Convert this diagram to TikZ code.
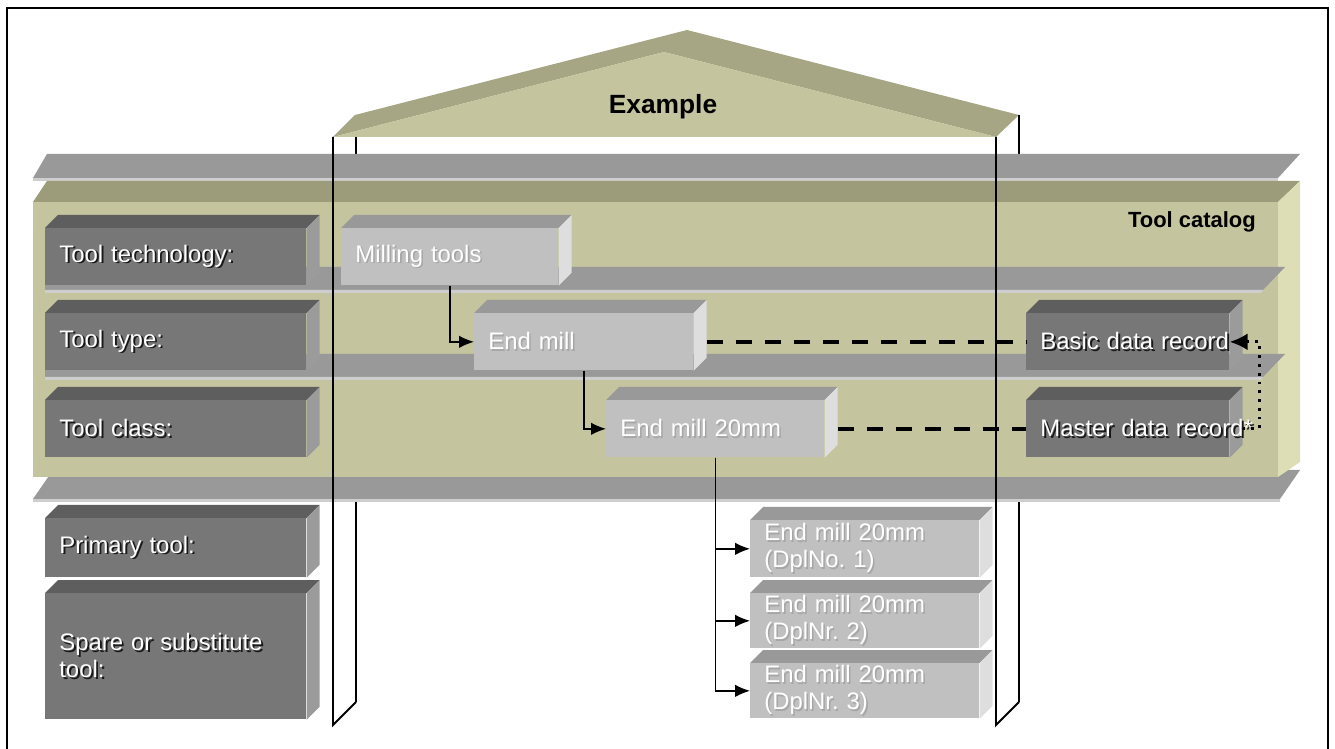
\documentclass[tikz,border=0pt]{standalone}
\usepackage{fontspec}
\setmainfont{Liberation Sans}
\usepackage{xcolor}
\usepackage{tikz}
\usetikzlibrary{calc,arrows.meta}
\definecolor{FrontKhaki}{RGB}{196,196,158}
\definecolor{TopKhaki}{RGB}{156,156,122}
\definecolor{SideKhaki}{RGB}{221,221,182}
\definecolor{RoofDark}{RGB}{166,166,132}
\definecolor{ShelfGray}{RGB}{153,153,153}
\definecolor{ShelfEdge}{RGB}{206,206,206}
\definecolor{LblFront}{RGB}{119,119,119}
\definecolor{LblTop}{RGB}{94,94,94}
\definecolor{LblSide}{RGB}{155,155,155}
\definecolor{ValFront}{RGB}{192,192,192}
\definecolor{ValTop}{RGB}{153,153,153}
\definecolor{ValSide}{RGB}{222,222,222}
\newcommand{\shd}[1]{\leavevmode\rlap{\kern1.1pt\raisebox{-1.1pt}{\color{black!90}#1}}\mbox{#1}}
\newcommand{\shl}[1]{\leavevmode\rlap{\kern0.9pt\raisebox{-0.9pt}{\color{black!35}#1}}\mbox{#1}}
\pgfdeclarelayer{back}
\pgfdeclarelayer{faces}
\pgfsetlayers{back,faces,main}

\begin{document}
\frenchspacing
\begin{tikzpicture}[x=0.02cm, y=-0.02cm, >=Latex, font=\fontsize{13.6}{15.5}\selectfont,
  lblbox/.style={fill=LblFront, text=white, anchor=north west, align=left,
                 inner xsep=0.28cm, inner ysep=0pt},
  valbox/.style={fill=ValFront, text=white, anchor=north west, align=left,
                 inner xsep=0.28cm, inner ysep=0pt},
  shelf/.style={fill=ShelfGray},
  shelfedge/.style={fill=ShelfEdge},
  post/.style={line width=1.1pt},
  sig/.style={-{Latex[length=0.3cm, width=0.25cm]}, line width=0.8pt},
  datalink/.style={line width=2.6pt, dash pattern=on 9.5pt off 7pt},
  dotlink/.style={-{Latex[length=0.36cm, width=0.34cm]}, line width=1.6pt,
                  dash pattern=on 1.6pt off 3.4pt}]

  \useasboundingbox (0,0) rectangle (1335,749);
  \draw[line width=1.3pt] (7,749) -- (7,8) -- (1328,8) -- (1328,749);

  \begin{pgfonlayer}{back}
  % --- roof ---
  \fill[RoofDark] (333,137) -- (355,115) -- (687,30) -- (1019,115) -- (996,137) -- (664,52) -- cycle;
  \fill[FrontKhaki] (333,137) -- (664,52) -- (996,137) -- cycle;
  \draw[post] (356,137) -- (356,702);
  \draw[post] (1019,115) -- (1019,702);

  % --- shelves and tool catalog ---
  \fill[shelf] (47,154) -- (1300,154) -- (1278,178) -- (33,178) -- cycle;
  \fill[shelfedge] (33,178) rectangle (1278,181);
  \fill[shelf] (53,470) -- (1300,470) -- (1280,499) -- (33,499) -- cycle;
  \fill[shelfedge] (33,499) rectangle (1280,502);
  \fill[TopKhaki] (47,181) -- (1300,181) -- (1278,202) -- (33,202) -- cycle;
  \fill[FrontKhaki] (33,202) rectangle (1278,477);
  \fill[SideKhaki] (1278,202) -- (1300,181) -- (1300,462) -- (1278,477) -- cycle;
  \foreach \y in {267,354} {
    \fill[shelf] (45,\y) -- (1285,\y) -- (1263,\y+23) -- (45,\y+23) -- cycle;
    \fill[shelfedge] (45,\y+23) -- (1263,\y+23) -- (1261,\y+26) -- (45,\y+26) -- cycle;
  }
  \end{pgfonlayer}
  \node[font=\bfseries\fontsize{15}{17}\selectfont] (title) at (663,107) {Example};
  \node[font=\bfseries\fontsize{12.5}{14}\selectfont, anchor=east] (cat) at (1262,222) {Tool catalog};

  % --- levels ---
  \node[lblbox, text width=4.66cm, minimum height=1.14cm] (tech)   at (45,228) {\shd{Tool technology:}};
  \node[lblbox, text width=4.66cm, minimum height=1.14cm] (ttype)  at (45,313) {\shd{Tool type:}};
  \node[lblbox, text width=4.66cm, minimum height=1.14cm] (tclass) at (45,400) {\shd{Tool class:}};
  \node[lblbox, text width=4.66cm, minimum height=1.18cm] (prim)   at (45,518) {\shd{Primary tool:}};
  \node[lblbox, text width=4.66cm, minimum height=2.52cm] (spare)  at (45,593) {\shd{Spare or substitute}\\\shd{tool:}};

  % --- example tools ---
  \node[valbox, text width=3.78cm, minimum height=1.14cm] (mill) at (341,228) {\shl{Milling tools}};
  \node[valbox, text width=3.82cm, minimum height=1.14cm] (em)   at (474,313) {\shl{End mill}};
  \node[valbox, text width=3.80cm, minimum height=1.14cm] (em20) at (606,400) {\shl{End mill 20mm}};
  \node[valbox, text width=4.02cm, minimum height=1.14cm] (dpl1) at (750,520) {\shl{End mill 20mm}\\\shl{(DplNo. 1)}};
  \node[valbox, text width=4.02cm, minimum height=1.10cm] (dpl2) at (750,593) {\shl{End mill 20mm}\\\shl{(DplNr. 2)}};
  \node[valbox, text width=4.02cm, minimum height=1.10cm] (dpl3) at (750,663) {\shl{End mill 20mm}\\\shl{(DplNr. 3)}};

  % --- data records ---
  \node[lblbox, text width=3.50cm, minimum height=1.14cm] (basic)  at (1026,313) {\shd{Basic data record}};
  \node[lblbox, text width=3.50cm, minimum height=1.14cm] (master) at (1026,400) {\shd{Master data record*}};

  % 3d faces
  \begin{pgfonlayer}{faces}
  \foreach \b in {tech,ttype,tclass,prim,spare,basic,master} {
    \fill[LblTop] (\b.north west) -- ++(13,-13) -- ([shift={(13,-13)}]\b.north east) -- (\b.north east) -- cycle;
    \fill[LblSide] (\b.north east) -- ++(13,-13) -- ([shift={(13,-13)}]\b.south east) -- (\b.south east) -- cycle;
  }
  \foreach \b in {mill,em,em20,dpl1,dpl2,dpl3} {
    \fill[ValTop] (\b.north west) -- ++(13,-13) -- ([shift={(13,-13)}]\b.north east) -- (\b.north east) -- cycle;
    \fill[ValSide] (\b.north east) -- ++(13,-13) -- ([shift={(13,-13)}]\b.south east) -- (\b.south east) -- cycle;
  }
  \end{pgfonlayer}

  % --- connectors ---
  \draw[sig] (mill.south) |- (em.west);
  \draw[sig] (em.south) |- (em20.west);
  \foreach \d in {dpl1,dpl2,dpl3}
    \draw[sig] (em20.south) |- (\d.west);
  \draw[datalink] ($(em.east)+(13,0)$) -- (basic.west);
  \draw[datalink] ($(em20.east)+(13,0)$) -- (master.west);
  \draw[dotlink] ($(master.east)+(13,0)$) -| ($(basic.east)+(30,0)$) -- (basic.east);

  % --- pillars in front ---
  \draw[post] (333,137) -- (333,725) -- (356,702);
  \draw[post] (996,137) -- (996,725) -- (1019,702);
\end{tikzpicture}
\end{document}
